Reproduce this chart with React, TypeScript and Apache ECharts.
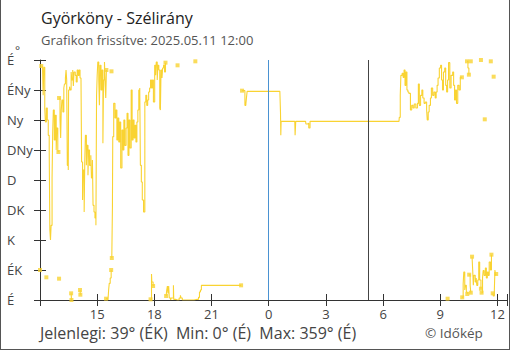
import React, { useEffect, useRef } from 'react';
import * as echarts from 'echarts';

// Wind direction readings: [minutes since 2025.05.10 12:00, degrees]
const run01 = [[0, 45]];
const run02 = [[4, 351], [8, 349], [10, 307], [12, 349], [15, 288], [17, 267], [20, 288], [23, 270], [26, 247], [29, 222], [31, 105], [33, 90], [35, 112], [38, 183], [40, 252], [42, 285], [45, 240], [48, 277], [51, 225], [53, 258], [56, 225], [58, 222]];
const run03 = [[20, 34]];
const run04 = [[60, 303], [63, 270], [65, 243], [67, 285], [69, 300], [72, 282], [75, 318], [77, 324], [80, 333], [82, 345], [84, 330], [86, 202], [89, 195], [90, 315], [93, 320], [95, 315], [98, 342], [100, 330], [103, 345], [105, 321], [107, 342], [111, 337], [114, 327], [117, 345], [120, 337], [123, 345], [126, 333], [129, 333], [131, 207], [134, 150], [136, 195], [139, 132], [141, 210], [143, 247], [146, 202], [148, 232], [151, 187], [153, 225], [156, 202], [160, 217], [162, 183], [165, 210], [167, 142], [170, 132], [173, 123], [176, 112], [178, 306], [180, 337], [182, 357], [185, 330], [187, 292], [189, 352], [192, 315], [195, 345], [198, 235], [200, 330], [203, 357], [205, 322], [207, 303], [209, 345]];
const run05 = [[60, 32]];
const run06 = [[98, 10], [99, 0]];
const run07 = [[126, 15], [127, 8]];
const run08 = [[208, 2], [214, 0], [216, 15], [218, 25], [221, 33], [224, 45]];
const run09 = [[225, 343]];
const run10 = [[226, 63], [228, 140], [229, 245], [232, 295], [236, 273], [239, 285], [242, 240], [245, 273], [248, 237], [251, 267], [254, 198], [258, 255], [261, 225], [264, 270], [267, 232], [271, 258], [274, 280], [277, 217], [280, 270], [283, 228], [287, 315], [290, 240], [293, 270], [296, 243], [299, 262], [302, 237], [305, 267], [308, 285], [311, 315], [314, 318], [316, 202], [319, 177], [322, 150], [326, 132], [330, 297], [333, 307], [336, 292], [339, 300], [342, 312], [345, 318], [348, 330], [351, 318], [354, 330], [357, 297], [361, 352], [364, 337], [366, 357], [369, 330], [371, 352], [374, 345], [377, 288], [379, 285], [381, 345], [384, 333], [386, 348], [389, 352], [392, 342], [395, 356]];
const run11 = [[348, 1], [351, 39], [352, 27], [356, 21]];
const run12 = [[433, 352]];
const run13 = [[489, 358]];
const run14 = [[397, 6], [399, 15], [401, 21], [403, 10], [405, 21], [407, 3], [411, 0], [413, 3], [420, 22], [421, 1], [427, 0], [432, 0], [438, 3], [442, 7], [444, 3], [448, 0], [485, 1], [495, 1], [499, 4], [502, 12], [505, 15], [508, 22], [633, 22]];
const run15 = [[636, 314], [642, 314], [645, 292], [648, 294], [650, 304], [652, 313], [755, 313], [757, 282], [758, 247], [759, 268], [802, 268], [803, 247], [805, 268], [836, 268], [837, 264], [842, 265], [846, 258], [850, 268], [1130, 268], [1131, 274], [1134, 307], [1136, 337], [1140, 340], [1143, 334], [1146, 345], [1149, 322], [1152, 342], [1155, 315], [1158, 312], [1161, 310], [1166, 285], [1170, 292], [1174, 288], [1178, 294], [1183, 288], [1188, 295], [1191, 324], [1194, 292], [1198, 307], [1202, 315], [1205, 303], [1209, 295], [1213, 297], [1217, 285], [1219, 270], [1222, 282], [1225, 292], [1229, 303], [1232, 318], [1236, 307], [1240, 312], [1244, 303], [1247, 312], [1250, 322], [1253, 333], [1257, 348], [1261, 352], [1264, 330], [1267, 315], [1270, 342], [1274, 348], [1277, 322], [1280, 312], [1283, 330], [1286, 356], [1290, 318], [1294, 337], [1299, 342], [1302, 322], [1305, 300], [1308, 315], [1311, 295], [1315, 322], [1319, 315], [1323, 334], [1328, 334]];
const run16 = [[1344, 358], [1347, 348], [1350, 338]];
const run17 = [[1356, 358]];
const run18 = [[1388, 360]];
const run19 = [[1400, 271]];
const run20 = [[1419, 358]];
const run21 = [[1428, 335]];
const run22 = [[1283, 2]];
const run23 = [[1329, 4], [1332, 24], [1334, 42], [1337, 15], [1339, 22], [1342, 12], [1345, 9]];
const run24 = [[1351, 38], [1354, 22], [1356, 11]];
const run25 = [[1360, 65], [1362, 45], [1364, 22], [1366, 37], [1370, 27], [1373, 33], [1375, 22], [1378, 30], [1381, 57], [1384, 30], [1388, 17]];
const run26 = [[1390, 11], [1393, 33], [1395, 44], [1398, 37], [1402, 48], [1405, 33], [1408, 42], [1411, 37], [1414, 57], [1418, 45], [1421, 68]];
const run27 = [[1425, 10], [1427, 6], [1430, 12], [1432, 45], [1434, 37], [1436, 39]];

const RUNS = [run01, run02, run03, run04, run05, run06, run07, run08, run09, run10, run11, run12, run13, run14, run15, run16, run17, run18, run19, run20, run21, run22, run23, run24, run25, run26, run27];

const Y_LABELS = ['É', 'ÉK', 'K', 'DK', 'D', 'DNy', 'Ny', 'ÉNy', 'É'];
const START_HOUR = 12;
const MIDNIGHT_MIN = 720;
const SUNRISE_MIN = 1034;

const TITLE = 'Györköny - Szélirány';
const SUBTITLE = 'Grafikon frissítve: 2025.05.11 12:00';
const FOOTER = 'Jelenlegi: 39° (ÉK)  Min: 0° (É)  Max: 359° (É)';
const CREDIT = '© Időkép';

const LINE_COLOR = '#f9d332';
const AXIS_COLOR = '#333';
const FONT = 'Open Sans';

export default function App() {
  const ref = useRef<HTMLDivElement>(null);
  useEffect(() => {
    if (!ref.current) return;
    const chart = echarts.init(ref.current, null, { renderer: 'svg' });

    const endpoints: number[][] = [];
    RUNS.forEach((r) => {
      endpoints.push(r[0]);
      if (r.length > 1) endpoints.push(r[r.length - 1]);
    });

    const lineSeries: any[] = RUNS.map((r, i) => ({
      type: 'line',
      data: r,
      step: 'end',
      showSymbol: false,
      symbol: 'none',
      lineStyle: { color: LINE_COLOR, width: 1.1 },
      z: 3,
      ...(i === 0
        ? {
            markLine: {
              silent: true,
              symbol: ['none', 'none'],
              label: { show: false },
              data: [
                { xAxis: MIDNIGHT_MIN, lineStyle: { color: '#4a92d2', width: 1, type: 'solid' } },
                { xAxis: SUNRISE_MIN, lineStyle: { color: '#444', width: 1, type: 'solid' } },
              ],
            },
          }
        : {}),
    }));

    const xFmt = (v: number) => {
      if (v === 0 || v % 180 !== 0) return '';
      return String((v / 60 + START_HOUR) % 24);
    };

    chart.setOption({
      animation: false,
      textStyle: { fontFamily: FONT },
      title: [
        { text: TITLE, left: 41, top: 10, padding: 0, textStyle: { fontSize: 16, fontWeight: 'normal', color: '#222', fontFamily: FONT } },
        { text: SUBTITLE, left: 41, top: 33, padding: 0, textStyle: { fontSize: 13, fontWeight: 'normal', color: '#555', fontFamily: FONT } },
      ],
      grid: { left: 40, right: 0, top: 60, bottom: 50 },
      xAxis: [
        {
          type: 'value', position: 'bottom', min: 0, max: 1470, interval: 180,
          axisLine: { lineStyle: { color: AXIS_COLOR, width: 1 } },
          axisTick: { length: 6, lineStyle: { color: AXIS_COLOR } },
          axisLabel: { formatter: xFmt, color: '#444', fontSize: 13, margin: 7, fontFamily: FONT },
          splitLine: { show: false },
        },
        {
          type: 'value', position: 'bottom', min: 0, max: 1470, interval: 180,
          axisLine: { show: false },
          axisTick: { inside: true, length: 6, lineStyle: { color: AXIS_COLOR } },
          axisLabel: { show: false },
          splitLine: { show: false },
        },
      ],
      yAxis: [
        {
          type: 'value', position: 'left', min: 0, max: 360, interval: 45,
          axisLine: { show: true, lineStyle: { color: AXIS_COLOR, width: 1 } },
          axisTick: { show: true, length: 6, lineStyle: { color: AXIS_COLOR } },
          axisLabel: { formatter: (v: number) => Y_LABELS[v / 45] || '', align: 'left', margin: 33, color: '#444', fontSize: 13, fontFamily: FONT },
          splitLine: { show: false },
        },
        {
          type: 'value', position: 'left', min: 0, max: 360, interval: 45,
          axisLine: { show: false },
          axisTick: { show: true, inside: true, length: 6, lineStyle: { color: AXIS_COLOR } },
          axisLabel: { show: false },
          splitLine: { show: false },
        },
      ],
      series: [
        ...lineSeries,
        {
          type: 'scatter',
          data: endpoints,
          symbol: 'rect',
          symbolSize: 4,
          itemStyle: { color: LINE_COLOR },
          z: 4,
        },
      ],
      graphic: [
        { type: 'text', left: 15, top: 44, style: { text: '°', fontSize: 12, lineHeight: 8, fill: '#444', fontFamily: FONT } },
        { type: 'text', left: 40, top: 325, style: { text: FOOTER, fontSize: 16, fill: '#444', fontFamily: FONT } },
        { type: 'text', left: 425, top: 326, style: { text: CREDIT, fontSize: 13.5, fill: '#555', fontFamily: FONT } },
        { type: 'line', shape: { x1: 0.5, y1: 0, x2: 0.5, y2: 350 }, style: { stroke: '#555', lineWidth: 1 } },
        { type: 'line', shape: { x1: 509.5, y1: 0, x2: 509.5, y2: 350 }, style: { stroke: '#555', lineWidth: 1 } },
        { type: 'line', shape: { x1: 0, y1: 349.5, x2: 510, y2: 349.5 }, style: { stroke: '#555', lineWidth: 1 } },
      ],
    });
    return () => chart.dispose();
  }, []);
  return <div ref={ref} style={{ position: 'absolute', left: 0, top: 0, width: 510, height: 350 }} />;
}
